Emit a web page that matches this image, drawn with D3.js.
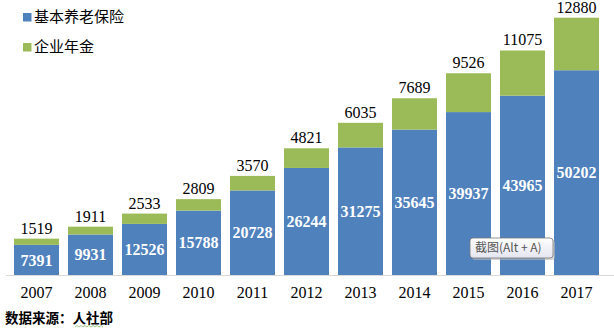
<!DOCTYPE html>
<html><head><meta charset="utf-8">
<script src="https://cdn.jsdelivr.net/npm/d3@7"></script>
<style>body{margin:0;background:#fff}svg{display:block}
.serif{font-family:"Liberation Serif","Times New Roman","DejaVu Serif",serif}
.cjk{font-family:"Noto Sans CJK SC","Noto Sans",sans-serif}
</style>
</head><body><svg id="c" width="614" height="329"></svg>
<script>
const years = ["2007","2008","2009","2010","2011","2012","2013","2014","2015","2016","2017"];
const pension = [7391,9931,12526,15788,20728,26244,31275,35645,39937,43965,50202];
const annuity = [1519,1911,2533,2809,3570,4821,6035,7689,9526,11075,12880];
const seriesNames = ["基本养老保险","企业年金"];
const colors = ["#4F81BD","#9BBB59"];

const svg = d3.select("#c");
const x = d3.scaleBand().domain(years).range([9.5, 603.5]).paddingInner(9/54).paddingOuter(4.5/54);
const y = d3.scaleLinear().domain([0, 65000]).range([275, 275 - 65000*0.004079]);

const data = years.map((yr,i)=>({yr, p:pension[i], a:annuity[i]}));

// axis line
svg.append("line").attr("x1",6).attr("x2",614).attr("y1",275.5).attr("y2",275.5)
  .attr("stroke","#D9D9D9").attr("stroke-width",1);

// bars
svg.selectAll("rect.p").data(data).enter().append("rect")
  .attr("x",d=>x(d.yr)).attr("width",x.bandwidth())
  .attr("y",d=>y(d.p)).attr("height",d=>y(0)-y(d.p)).attr("fill",colors[0]);
svg.selectAll("rect.a").data(data).enter().append("rect")
  .attr("x",d=>x(d.yr)).attr("width",x.bandwidth())
  .attr("y",d=>y(d.p+d.a)).attr("height",d=>y(d.p)-y(d.p+d.a)).attr("fill",colors[1]);

// pension labels
svg.selectAll("text.p").data(data).enter().append("text").attr("class","serif")
  .attr("x",d=>x(d.yr)+x.bandwidth()/2).attr("y",d=>(y(d.p)+y(0))/2)
  .attr("dy","0.35em").attr("text-anchor","middle")
  .attr("font-weight","bold").attr("font-size",16)
  .attr("fill","#fff").text(d=>d.p);
// annuity labels
svg.selectAll("text.a").data(data).enter().append("text").attr("class","serif")
  .attr("x",d=>x(d.yr)+x.bandwidth()/2).attr("y",d=>y(d.p+d.a)-5)
  .attr("text-anchor","middle").attr("font-size",16)
  .attr("fill","#000").text(d=>d.a);

// x axis labels
const xAxis = d3.axisBottom(x).tickSize(0).tickPadding(0);
const gx = svg.append("g").attr("transform","translate(0,287)").call(xAxis);
gx.attr("font-family",null).attr("font-size",null);
gx.select(".domain").remove();
gx.selectAll("text").attr("class","serif").attr("font-size",16).attr("fill","#000").attr("dy","0.71em");

// legend
seriesNames.forEach((n,i)=>{
  const ly = 17 + i*30;
  svg.append("rect").attr("x",23).attr("y",ly-4).attr("width",8.5).attr("height",8.5).attr("fill",colors[i]);
  svg.append("text").attr("class","cjk").attr("x",34).attr("y",ly).attr("dy","0.35em")
    .attr("font-size",15).attr("fill","#000").text(n);
});

// source
svg.append("text").attr("class","cjk").attr("x",5).attr("y",318).attr("dy","0.35em")
  .attr("font-weight","bold").attr("font-size",13.5).attr("fill","#000").text("数据来源：人社部");
let wp = "M75,327"; for(let i=0;i<14;i++){ wp += ` l2,${i%2?1.5:-1.5}`; }
svg.append("path").attr("d",wp).attr("fill","none").attr("stroke","#7AB55C").attr("stroke-width",0.7);

// tooltip overlay
const tg = svg.append("g");
const grad = svg.append("defs").append("linearGradient").attr("id","tg").attr("x1",0).attr("y1",0).attr("x2",0).attr("y2",1);
grad.append("stop").attr("offset","0").attr("stop-color","#ffffff");
grad.append("stop").attr("offset","1").attr("stop-color","#e4e5f0");
tg.append("rect").attr("x",472).attr("y",240).attr("width",83).attr("height",20).attr("rx",3)
  .attr("fill","#bbb").attr("opacity",0.6);
tg.append("rect").attr("x",470).attr("y",238).attr("width",83).attr("height",20).attr("rx",3)
  .attr("fill","url(#tg)").attr("stroke","#767676").attr("stroke-width",0.8);
tg.append("text").attr("class","cjk").attr("x",475).attr("y",248).attr("dy","0.35em")
  .attr("font-size",12).attr("fill","#555").text("截图(Alt + A)");
</script></body></html>
